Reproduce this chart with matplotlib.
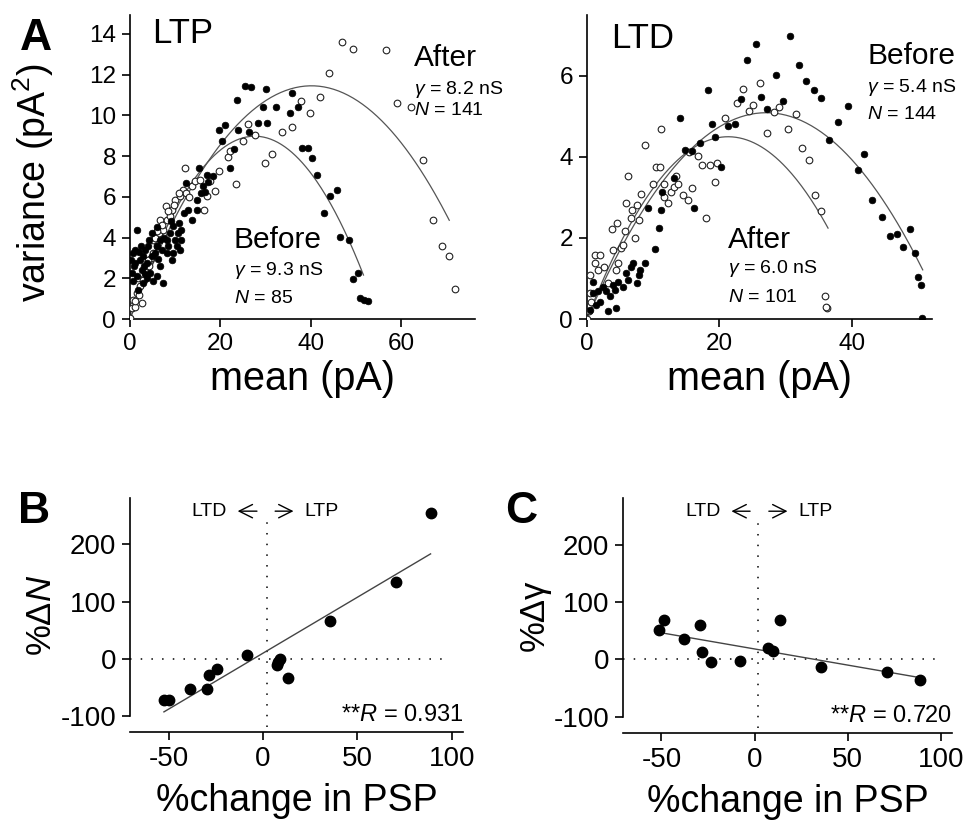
import numpy as np
import matplotlib
matplotlib.use('Agg')
import matplotlib.pyplot as plt

plt.rcParams['font.family'] = ['Liberation Sans', 'DejaVu Sans']
plt.rcParams['mathtext.fontset'] = 'custom'
plt.rcParams['mathtext.rm'] = 'Liberation Sans'
plt.rcParams['mathtext.it'] = 'Liberation Sans:italic'
plt.rcParams['axes.unicode_minus'] = False

# ---- panel A, LTP: mean (pA) vs variance (pA^2)
ltp_before_mean = [25.5, 26.9, 30.2, 23.8, 35.9, 32.3, 29.5, 35.4, 37.1, 19.7, 21.1, 23.9, 20.4, 26.3,
                   28.3, 30.3, 23.1, 22.1, 38.1, 39.4, 40.4, 41.5, 44.4, 45.8, 43.0, 46.5, 48.4, 49.4,
                   50.6, 51.0, 51.8, 52.6, 15.3, 17.0, 12.5, 12.9, 13.8, 14.8, 14.8, 15.7, 16.2, 16.6,
                   17.3, 18.4, 1.5, 0.7, 1.1, 0.4, 1.5, 2.2, 2.95, 3.3, 4.1, 4.8, 5.9, 6.6, 7.0, 8.1,
                   8.9, 9.6, 10.0, 10.7, 11.4, 11.4, 11.1, 10.3, 8.5, 6.6, 7.4, 5.9, 5.2, 4.4, 3.7, 2.6,
                   1.8, 0.6, 4.8, 5.5, 3.7, 8.1, 9.2, 9.6, 2.0, 3.0, 6.2, 0.3, 1.0, 2.4, 3.4, 4.0, 6.0,
                   7.6, 9.0, 10.9, 12.0, 0.9, 2.8]
ltp_before_var = [11.45, 11.4, 11.3, 10.76, 11.1, 10.4, 10.4, 10.1, 10.4, 9.29, 9.54, 9.29, 8.75, 9.16,
                  9.62, 9.62, 8.34, 7.41, 8.42, 8.39, 7.9, 7.08, 6.02, 6.35, 5.23, 4.02, 3.86, 1.96,
                  2.26, 1.05, 0.95, 0.88, 7.41, 7.08, 6.67, 5.37, 4.87, 5.37, 5.86, 6.18, 6.51, 6.26,
                  6.71, 7.0, 4.35, 3.24, 2.75, 2.26, 2.09, 2.91, 3.08, 3.4, 3.89, 4.22, 3.57, 3.89, 3.4,
                  3.24, 4.22, 4.55, 3.89, 4.22, 4.38, 3.89, 3.4, 3.57, 3.57, 2.58, 1.77, 2.09, 1.85,
                  2.26, 2.01, 2.42, 1.44, 1.85, 3.08, 3.24, 2.75, 3.89, 2.91, 3.24, 3.3, 2.6, 2.95, 2.9,
                  3.4, 3.6, 2.2, 3.6, 4.5, 4.0, 4.8, 4.7, 5.2, 2.6, 1.75]
ltp_after_mean = [0.0, 0.4, 0.7, 1.5, 2.2, 1.8, 2.6, 3.0, 3.7, 4.1, 4.4, 5.2, 5.9, 5.2, 6.5, 7.4, 6.6,
                  8.1, 8.9, 7.9, 9.2, 10.0, 11.1, 11.8, 12.5, 12.2, 13.7, 14.4, 15.5, 17.0, 16.4, 17.7,
                  18.8, 19.7, 21.8, 22.1, 23.5, 25.1, 26.2, 27.7, 29.9, 31.5, 33.6, 35.9, 37.9, 39.9,
                  42.1, 44.1, 46.9, 49.3, 56.7, 59.2, 62.2, 64.8, 67.0, 69.0, 70.7, 71.9, 1.0, 2.9, 4.6,
                  6.0, 3.4, 7.0, 1.2, 2.0, 3.9, 5.6, 8.4, 9.8, 10.8, 13.0]
ltp_after_var = [0.05, 0.54, 0.95, 1.28, 1.6, 2.0, 0.79, 1.93, 2.26, 2.58, 2.91, 3.24, 3.57, 3.89,
                 4.22, 4.38, 4.84, 4.87, 5.04, 5.56, 5.37, 5.86, 6.02, 6.35, 6.18, 7.41, 6.51, 6.76,
                 6.84, 6.02, 5.33, 6.76, 6.31, 7.25, 7.98, 8.23, 6.62, 8.72, 9.57, 9.04, 7.65, 8.11,
                 9.16, 9.42, 10.73, 10.14, 10.88, 12.07, 13.62, 13.26, 13.2, 10.63, 10.43, 7.82, 4.84,
                 3.6, 3.1, 1.47, 0.6, 1.9, 3.0, 4.3, 2.3, 4.6, 0.9, 1.2, 2.9, 4.0, 5.3, 5.6, 6.2, 6.0]

# ---- panel A, LTD
ltd_before_mean = [30.6, 25.5, 24.2, 32.0, 33.1, 34.3, 35.4, 28.6, 18.3, 26.3, 23.3, 29.6, 27.2, 39.4,
                   18.9, 21.3, 22.3, 14.1, 19.4, 37.9, 36.5, 17.0, 14.8, 15.8, 20.3, 41.9, 40.9, 13.1,
                   11.4, 11.1, 16.1, 9.2, 10.8, 10.3, 43.1, 44.5, 45.7, 46.8, 48.8, 47.7, 49.5, 50.0,
                   50.5, 50.65, 8.7, 8.0, 6.9, 5.9, 6.2, 5.4, 4.2, 2.9, 3.4, 1.9, 1.4, 0.9, 0.9, 3.2,
                   4.4, 4.7, 3.9, 0.4, 7.5, 6.7, 7.9, 2.4, 1.7]
ltd_before_var = [6.98, 6.79, 6.38, 6.26, 5.88, 5.65, 5.45, 6.02, 5.65, 5.48, 5.43, 5.38, 5.18, 5.26,
                  4.81, 4.75, 4.8, 4.96, 4.48, 4.87, 4.42, 4.34, 4.16, 4.14, 3.75, 4.08, 3.68, 3.48,
                  3.13, 2.7, 2.73, 2.73, 2.25, 1.72, 2.93, 2.52, 2.05, 2.09, 2.22, 1.78, 1.62, 1.03,
                  0.84, 0.02, 1.37, 1.21, 1.37, 1.13, 0.97, 0.8, 0.72, 0.68, 0.56, 0.43, 0.35, 0.64,
                  0.92, 0.19, 0.27, 0.92, 0.84, 0.23, 0.88, 1.29, 1.09, 0.8, 0.68]
ltd_after_mean = [0.0, 0.3, 0.65, 0.4, 0.4, 1.2, 1.2, 2.0, 1.7, 2.5, 3.2, 3.7, 4.5, 3.9, 4.7, 4.4, 5.2,
                  5.5, 5.8, 6.2, 5.9, 6.8, 7.5, 8.1, 7.2, 6.6, 7.8, 8.7, 10.0, 10.4, 11.0, 11.2, 11.7,
                  11.7, 12.2, 12.7, 13.2, 13.8, 13.5, 14.5, 15.3, 15.9, 15.4, 16.7, 17.4, 18.6, 19.6,
                  19.4, 18.0, 20.8, 22.6, 23.5, 24.5, 25.0, 26.1, 27.2, 28.3, 29.0, 30.4, 31.5, 32.4,
                  33.5, 34.4, 35.4, 35.9, 36.3, 36.1]
ltd_after_var = [0.0, 0.19, 0.43, 0.64, 1.09, 1.37, 1.58, 1.58, 1.21, 1.29, 0.88, 2.21, 2.37, 1.7,
                 1.37, 1.21, 1.74, 1.82, 2.17, 3.52, 2.85, 2.68, 2.81, 3.09, 1.99, 2.48, 2.44, 4.3,
                 3.34, 3.75, 3.75, 4.69, 3.34, 3.01, 2.85, 3.13, 3.26, 3.34, 3.54, 3.05, 2.93, 3.24,
                 4.12, 4.01, 3.79, 3.79, 3.85, 3.37, 2.48, 4.96, 5.33, 5.67, 5.14, 5.29, 5.83, 4.58,
                 5.1, 5.22, 4.69, 5.06, 4.21, 3.93, 3.05, 2.67, 0.56, 0.27, 0.3]

# parabolic fits: variance = i*I - I^2/N
ltp_before_fit = {'i': 0.65, 'N': 85, 'end': 51.7}
ltp_after_fit = {'i': 0.57, 'N': 141, 'end': 70.7}
ltd_before_fit = {'i': 0.376, 'N': 144, 'end': 50.7}
ltd_after_fit = {'i': 0.422, 'N': 101, 'end': 36.4}

# ---- panels B and C: % change in PSP
psp_B = [88.8, 70.6, 35.3, -8.8, 8.8, 7.1, 7.8, 13.2, -24.4, -28.6, -29.6, -38.8, -52.6, -49.9]
dN = [254.5, 134.9, 66.0, 6.4, -1.2, -11.1, -5.0, -34.4, -18.7, -28.6, -53.7, -52.0, -72.4, -72.4]
psp_C = [-48.8, -51.2, -37.8, -29.0, -28.0, -23.4, -8.0, 7.5, 9.8, 13.9, 35.9, 71.0, 88.8]
dgamma = [68.6, 51.2, 35.5, 60.5, 13.4, -5.2, -3.5, 19.2, 14.0, 68.6, -12.8, -22.7, -36.0]
fit_B = {'slope': 1.953, 'icpt': 9.9, 'x0': -52.6, 'x1': 88.8}
fit_C = {'slope': -0.562, 'icpt': 18.3, 'x0': -51.2, 'x1': 90.6}

fig = plt.figure(figsize=(9.65, 8.36), dpi=100)
W, H = 965, 836


def add_ax(l, t, r, b):
    return fig.add_axes([l / W, 1 - b / H, (r - l) / W, (b - t) / H])


def style(ax, fs):
    for s in ['top', 'right']:
        ax.spines[s].set_visible(False)
    for s in ['left', 'bottom']:
        ax.spines[s].set_linewidth(1.2)
    ax.tick_params(direction='out', length=6, width=1.2, labelsize=fs, pad=4)


def parab(ax, p):
    m = np.linspace(0, p['end'], 200)
    ax.plot(m, p['i'] * m - m ** 2 / p['N'], color='#555555', lw=0.9, zorder=1)


dot = dict(ls='none', marker='o', ms=4.8, zorder=3)

# panel A LTP
ax1 = add_ax(130, 15, 475, 319)
style(ax1, 17.5)
parab(ax1, ltp_before_fit)
parab(ax1, ltp_after_fit)
ax1.plot(ltp_after_mean, ltp_after_var, mfc='white', mec='#222222', mew=0.8, **dot)
ax1.plot(ltp_before_mean, ltp_before_var, mfc='black', mec='black', mew=0.5, **dot)
ax1.set_xlim(0, 76.4)
ax1.set_ylim(0, 14.93)
ax1.set_xticks([0, 20, 40, 60])
ax1.set_yticks(range(0, 15, 2))
ax1.set_xlabel('mean (pA)', fontsize=28.5, labelpad=4)
ax1.set_ylabel('variance (pA$^2$)', fontsize=27)
ax1.yaxis.set_label_coords(-0.215, 0.45)
ax1.text(4.8, 13.55, 'LTP', fontsize=25)
ax1.text(62.8, 12.44, 'After', fontsize=21.5)
ax1.text(62.8, 11.05, r'$\mathit{γ}$ = 8.2 nS', fontsize=14)
ax1.text(62.8, 10.0, r'$\mathit{N}$ = 141', fontsize=14)
ax1.text(23.0, 3.49, 'Before', fontsize=21.5)
ax1.text(23.0, 2.16, r'$\mathit{γ}$ = 9.3 nS', fontsize=14)
ax1.text(23.0, 0.77, r'$\mathit{N}$ = 85', fontsize=14)

# panel A LTD
ax2 = add_ax(587, 15, 932, 319)
style(ax2, 17.5)
parab(ax2, ltd_before_fit)
parab(ax2, ltd_after_fit)
ax2.plot(ltd_after_mean, ltd_after_var, mfc='white', mec='#222222', mew=0.8, **dot)
ax2.plot(ltd_before_mean, ltd_before_var, mfc='black', mec='black', mew=0.5, **dot)
ax2.set_xlim(0, 52.1)
ax2.set_ylim(0, 7.5)
ax2.set_xticks([0, 20, 40])
ax2.set_yticks([0, 2, 4, 6])
ax2.set_xlabel('mean (pA)', fontsize=28.5, labelpad=4)
ax2.text(3.7, 6.69, 'LTD', fontsize=25)
ax2.text(42.3, 6.28, 'Before', fontsize=21.5)
ax2.text(42.3, 5.61, r'$\mathit{γ}$ = 5.4 nS', fontsize=14)
ax2.text(42.3, 4.93, r'$\mathit{N}$ = 144', fontsize=14)
ax2.text(21.3, 1.74, 'After', fontsize=21.5)
ax2.text(21.3, 1.13, r'$\mathit{γ}$ = 6.0 nS', fontsize=14)
ax2.text(21.3, 0.41, r'$\mathit{N}$ = 101', fontsize=14)


def psp_panel(ax, x, y, fit, vline, ylab, rtxt, lab):
    style(ax, 20)
    ax.set_xlim(-70.6, 106)
    ax.set_ylim(-128, 281)
    ax.spines['left'].set_bounds(-100, 281)
    ax.set_xticks([-50, 0, 50, 100])
    ax.set_yticks([-100, 0, 100, 200])
    ax.axvline(vline, ymin=0.02, ymax=0.91, color='black', lw=1.1, ls=(0, (1, 6)), zorder=1)
    ax.plot([-70.6, 97], [0, 0], color='black', lw=1.1, ls=(0, (1, 6)), zorder=1)
    xf = np.array([fit['x0'], fit['x1']])
    ax.plot(xf, fit['slope'] * xf + fit['icpt'], color='#444444', lw=1.0, zorder=2)
    ax.plot(x, y, ls='none', marker='o', ms=7.5, color='black', zorder=3)
    ax.set_xlabel('%change in PSP', fontsize=27, labelpad=8)
    ax.set_ylabel(ylab, fontsize=25, labelpad=2)
    ax.text(106, -108, rtxt, fontsize=17, ha='right')
    a = lab
    ax.text(a['ltd'], 258, 'LTD', fontsize=14, ha='right', va='center')
    ax.text(a['ltp'], 258, 'LTP', fontsize=14, ha='left', va='center')
    arr = dict(arrowstyle='->', lw=1.0, color='black', mutation_scale=24)
    ax.annotate('', xy=(a['h1'], 258), xytext=(a['t1'], 258), arrowprops=arr)
    ax.annotate('', xy=(a['h2'], 258), xytext=(a['t2'], 258), arrowprops=arr)


axB = add_ax(130, 498, 463, 732)
psp_panel(axB, psp_B, dN, fit_B, 1.8, r'%Δ$\mathit{N}$', r'**$\mathit{R}$ = 0.931',
          {'ltd': -19.4, 'ltp': 22.1, 'h1': -15, 't1': -1.8, 'h2': 17.6, 't2': 4.9})
axC = add_ax(623, 498, 952, 733)
psp_panel(axC, psp_C, dgamma, fit_C, 2.1, '%Δγ', r'**$\mathit{R}$ = 0.720',
          {'ltd': -18.1, 'ltp': 23.4, 'h1': -13.9, 't1': -0.9, 'h2': 19.2, 't2': 6.2})

fig.text(20 / W, 1 - 50 / H, 'A', fontsize=32, fontweight='bold')
fig.text(18 / W, 1 - 523 / H, 'B', fontsize=32, fontweight='bold')
fig.text(505 / W, 1 - 523 / H, 'C', fontsize=32, fontweight='bold')

fig.savefig('out.png', dpi=100)
